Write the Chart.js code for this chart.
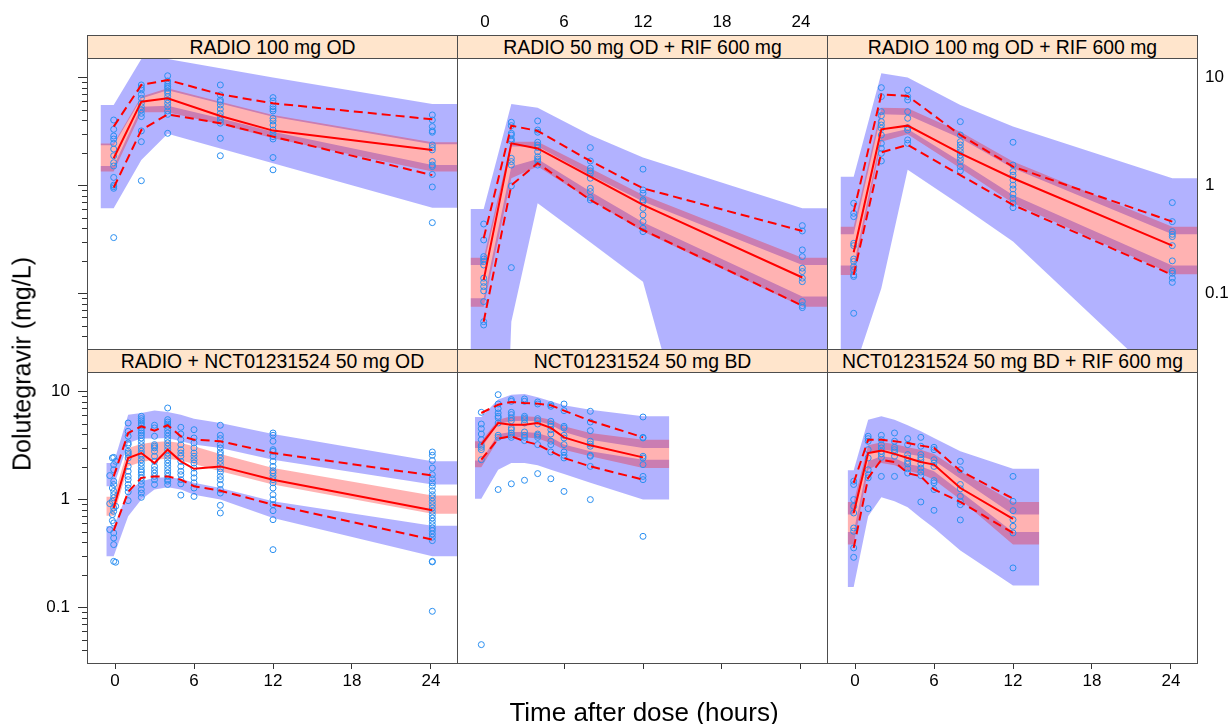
<!DOCTYPE html>
<html><head><meta charset="utf-8">
<script src="https://cdn.jsdelivr.net/npm/chart.js@4.4.1/dist/chart.umd.min.js"></script>
<style>
html,body{margin:0;padding:0;background:#fff;}
body{width:1231px;height:724px;overflow:hidden;position:relative;font-family:"Liberation Sans",Arial,sans-serif;}
canvas{position:absolute;}
.strip{position:absolute;box-sizing:border-box;height:24px;width:371px;background:#ffe5cc;border:1px solid #4d4d4d;font-size:19.4px;line-height:22px;text-align:center;color:#000;white-space:nowrap;}
.atitle{position:absolute;transform:translate(-50%,-50%);white-space:nowrap;color:#000;}
</style></head><body>
<script>
// ---------- tick labels / titles ----------
const xTickValues = [0, 6, 12, 18, 24];
const xTickValuesMid = [6, 12, 18, 24];
const xTickLabels = ['0', '6', '12', '18', '24'];
const yTickValues = [0.04,0.05,0.06,0.07,0.08,0.09,0.1,0.2,0.3,0.4,0.5,0.6,0.7,0.8,0.9,1,2,3,4,5,6,7,8,9,10];
const yLabelValues = [0.1, 1, 10];
const yTickLabels = ['0.1', '1', '10'];
const panelTitles = ['RADIO 100 mg OD', 'RADIO 50 mg OD + RIF 600 mg', 'RADIO 100 mg OD + RIF 600 mg',
  'RADIO + NCT01231524 50 mg OD', 'NCT01231524 50 mg BD', 'NCT01231524 50 mg BD + RIF 600 mg'];
const xAxisTitle = 'Time after dose (hours)';
const yAxisTitle = 'Dolutegravir (mg/L)';

// ---------- Panel 1: RADIO 100 mg OD ----------
const p1BinTime = [-0.1, 2, 4, 8, 12, 24.1];
const p1Median = [1.79, 5.99, 6.43, 4.41, 3.23, 2.14];
const p1P95 = [3.52, 8.55, 9.51, 7.00, 5.78, 4.11];
const p1P05 = [0.958, 3.27, 4.57, 3.78, 2.84, 1.25];
const p1BandTime = [-1.1, -0.1, 2, 4, 8, 12, 24.1, 26.5];
const p1Hi95 = [5.58, 5.58, 14.9, 14.9, 12.2, 10.0, 5.70, 5.70];
const p1Lo95 = [2.36, 2.36, 6.40, 7.64, 5.75, 4.33, 2.42, 2.42];
const p1Hi50 = [2.46, 2.46, 6.67, 7.96, 5.99, 4.51, 2.52, 2.52];
const p1Lo50 = [1.35, 1.35, 4.77, 4.77, 3.70, 2.74, 1.35, 1.35];
const p1Hi05 = [1.52, 1.52, 5.38, 5.50, 4.20, 3.16, 1.55, 1.55];
const p1Lo05 = [0.617, 0.617, 1.73, 3.02, 2.20, 1.61, 0.625, 0.625];
const p1ObsTime = [-0.1, 2, 4, 8, 12, 24.1];
const p1ObsConc = [
  [4.05, 3.32, 2.88, 2.70, 2.46, 2.18, 1.89, 1.63, 1.52, 1.19, 1.01, 0.978, 0.944, 0.330],
  [8.55, 8.07, 7.68, 7.00, 6.43, 5.78, 5.38, 5.02, 4.67, 4.35, 3.21, 2.55, 1.11],
  [10.4, 9.31, 8.67, 8.25, 7.96, 7.52, 7.15, 6.67, 6.21, 5.78, 5.38, 4.91, 4.57, 3.05],
  [8.55, 6.91, 6.21, 5.99, 5.58, 5.12, 4.67, 4.35, 4.05, 3.78, 2.74, 1.89],
  [6.53, 6.08, 5.38, 5.12, 4.91, 4.20, 3.97, 3.64, 3.27, 3.05, 2.84, 2.70, 1.82, 1.40],
  [4.51, 4.05, 3.52, 3.21, 3.12, 2.38, 2.25, 2.14, 1.67, 1.55, 1.50, 1.27, 0.971, 0.454]
];

// ---------- Panel 2: RADIO 50 mg OD + RIF 600 mg ----------
const p2BinTime = [-0.1, 2, 4, 8, 12, 24.1];
const p2Median = [0.134, 2.46, 2.21, 1.21, 0.662, 0.141];
const p2P95 = [0.325, 3.59, 3.21, 1.69, 0.944, 0.380];
const p2P05 = [0.055, 1.01, 1.61, 0.736, 0.388, 0.0774];
const p2BandTime = [-1.1, -0.1, 2, 4, 8, 12, 24.1, 26.5];
const p2Hi95 = [0.608, 0.608, 5.70, 5.27, 2.94, 1.82, 0.617, 0.617];
const p2Lo95 = [0.184, 0.184, 2.30, 2.30, 1.25, 0.711, 0.184, 0.184];
const p2Hi50 = [0.215, 0.215, 2.55, 2.55, 1.45, 0.819, 0.215, 0.215];
const p2Lo50 = [0.0757, 0.0757, 1.17, 1.50, 0.736, 0.375, 0.0757, 0.0757];
const p2Hi05 = [0.0905, 0.0905, 1.50, 1.76, 0.88, 0.457, 0.0938, 0.0938];
const p2Lo05 = [1e-8, 1e-8, 0.055, 0.686, 0.299, 0.129, 6e-7, 6e-7];
const p2ObsTime = [-0.1, 2, 4, 8, 12, 24.1];
const p2ObsConc = [
  [0.441, 0.314, 0.220, 0.209, 0.198, 0.184, 0.139, 0.127, 0.116, 0.106, 0.0843, 0.055, 0.0512],
  [3.86, 3.59, 3.05, 2.94, 2.70, 2.59, 1.79, 1.67, 1.55, 0.992, 0.174],
  [3.97, 3.27, 3.12, 2.52, 2.38, 2.25, 2.06, 1.85, 1.76, 1.69, 1.55],
  [2.25, 1.69, 1.45, 1.37, 1.30, 1.17, 0.944, 0.88, 0.774, 0.736],
  [1.42, 0.911, 0.849, 0.736, 0.711, 0.617, 0.535, 0.464, 0.403, 0.375],
  [0.426, 0.380, 0.254, 0.220, 0.172, 0.160, 0.139, 0.129, 0.0843, 0.0774, 0.0742]
];

// ---------- Panel 3: RADIO 100 mg OD + RIF 600 mg ----------
const p3BinTime = [-0.1, 2, 4, 8, 12, 24.1];
const p3Median = [0.241, 3.32, 3.59, 1.99, 1.17, 0.278];
const p3P95 = [0.574, 7.00, 6.76, 2.94, 1.50, 0.464];
const p3P05 = [0.149, 2.03, 2.38, 1.25, 0.662, 0.149];
const p3BandTime = [-1.1, -0.1, 2, 4, 8, 12, 24.1, 26.5];
const p3Hi95 = [1.21, 1.21, 10.96, 10.0, 5.58, 3.52, 1.17, 1.17];
const p3Lo95 = [0.354, 0.354, 4.57, 4.51, 2.74, 1.45, 0.354, 0.354];
const p3Hi50 = [0.417, 0.417, 5.27, 5.20, 3.16, 1.67, 0.417, 0.417];
const p3Lo50 = [0.149, 0.149, 2.55, 2.99, 1.45, 0.686, 0.151, 0.151];
const p3Hi05 = [0.182, 0.182, 2.94, 3.35, 1.67, 0.819, 0.182, 0.182];
const p3Lo05 = [0.019, 0.019, 0.112, 1.40, 0.662, 0.303, 0.0125, 0.0125];
const p3ObsTime = [-0.1, 2, 4, 8, 12, 24.1];
const p3ObsConc = [
  [0.686, 0.554, 0.516, 0.292, 0.278, 0.209, 0.198, 0.178, 0.166, 0.149, 0.144, 0.0657],
  [8.07, 6.67, 4.84, 4.44, 3.91, 3.64, 3.39, 2.94, 2.46, 2.21, 1.99, 1.69],
  [7.68, 6.67, 6.21, 4.84, 4.20, 3.44, 3.27, 2.65, 2.46],
  [3.91, 2.94, 2.55, 2.38, 2.21, 2.06, 1.92, 1.79, 1.67, 1.50, 1.37],
  [2.52, 1.55, 1.35, 1.25, 1.13, 1.01, 0.931, 0.831, 0.763, 0.686, 0.625],
  [0.696, 0.464, 0.375, 0.354, 0.337, 0.278, 0.201, 0.162, 0.154, 0.139, 0.127]
];

// ---------- Panel 4: RADIO + NCT01231524 50 mg OD ----------
const p4BinTime = [-0.1, 1, 2, 3, 4, 5, 6, 8, 12, 24.1];
const p4Median = [0.837, 2.43, 2.70, 2.18, 2.90, 2.26, 1.93, 2.03, 1.53, 0.796];
const p4P95 = [1.64, 4.14, 4.77, 4.35, 4.88, 3.86, 3.59, 3.47, 2.70, 1.67];
const p4P05 = [0.516, 1.18, 1.59, 1.64, 1.64, 1.53, 1.33, 1.21, 0.898, 0.426];
const p4BandTime = [-0.66, -0.1, 1, 2, 3, 4, 5, 6, 8, 12, 24.1, 26.5];
const p4Hi95 = [2.18, 2.18, 6.12, 6.34, 6.67, 6.48, 6.12, 5.62, 5.12, 4.05, 2.26, 2.26];
const p4Lo95 = [1.33, 1.33, 3.35, 3.67, 3.67, 3.72, 3.47, 3.23, 3.01, 2.34, 1.38, 1.38];
const p4Hi50 = [1.06, 1.06, 3.01, 3.27, 3.42, 3.47, 3.35, 3.12, 2.65, 1.96, 1.09, 1.09];
const p4Lo50 = [0.710, 0.710, 2.03, 2.23, 2.34, 2.39, 2.30, 2.14, 1.83, 1.38, 0.741, 0.741];
const p4Hi05 = [0.566, 0.566, 1.19, 1.48, 1.59, 1.61, 1.56, 1.43, 1.28, 0.964, 0.574, 0.574];
const p4Lo05 = [0.299, 0.299, 0.700, 1.00, 1.24, 1.30, 1.24, 1.11, 1.00, 0.676, 0.299, 0.299];
const p4ObsTime = [-0.4, -0.2, -0.1, 0.05, 1, 2, 3, 4, 5, 6, 8, 12, 24.1];
const p4ObsConc = [
  [1.67, 0.918, 0.527],
  [2.43, 1.28, 0.964, 0.726, 0.639],
  [2.46, 2.11, 1.89, 1.48, 1.38, 1.19, 1.11, 1.04, 0.837, 0.779, 0.608, 0.491, 0.441, 0.383, 0.268],
  [2.26, 0.867, 0.263],
  [5.12, 4.29, 3.86, 3.35, 3.23, 2.80, 2.70, 2.61, 2.43, 2.03, 1.83, 1.64, 1.53, 1.38, 1.28, 1.18, 0.978],
  [5.91, 5.62, 5.38, 5.12, 4.88, 4.61, 4.35, 4.14, 3.94, 3.72, 3.47, 3.23, 3.01, 2.80, 2.65, 2.52, 2.34, 2.18, 2.03, 1.89, 1.80, 1.70, 1.59, 1.48, 1.38, 1.24, 1.15, 1.05],
  [4.88, 4.61, 3.86, 3.23, 3.12, 3.01, 2.80, 2.52, 2.26, 2.03, 1.89, 1.76, 1.64, 1.53, 1.38],
  [7.05, 5.50, 5.23, 5.01, 4.77, 4.44, 4.14, 3.86, 3.59, 3.35, 3.12, 2.90, 2.70, 2.52, 2.34, 2.18, 2.03, 1.89, 1.76, 1.64, 1.53, 1.48, 1.38],
  [4.67, 4.05, 3.59, 3.23, 2.90, 2.70, 2.52, 2.26, 2.03, 1.83, 1.70, 1.53, 1.40, 1.10],
  [4.44, 3.72, 3.35, 3.01, 2.70, 2.52, 2.34, 2.18, 1.96, 1.76, 1.59, 1.43, 1.28, 1.07],
  [4.88, 3.94, 3.67, 3.23, 3.01, 2.76, 2.61, 2.43, 2.26, 2.11, 1.93, 1.80, 1.64, 1.53, 1.38, 1.24, 1.15, 0.885, 0.752],
  [4.14, 3.94, 3.47, 2.90, 2.80, 2.52, 2.26, 2.03, 1.85, 1.76, 1.64, 1.53, 1.43, 1.28, 1.11, 1.00, 0.898, 0.790, 0.652, 0.344],
  [2.76, 2.57, 2.30, 1.96, 1.70, 1.56, 1.43, 1.33, 1.21, 1.11, 1.04, 0.964, 0.898, 0.837, 0.779, 0.726, 0.676, 0.630, 0.586, 0.546, 0.516, 0.481, 0.448, 0.417, 0.268, 0.265, 0.0924]
];

// ---------- Panel 5: NCT01231524 50 mg BD ----------
const p5BinTime = [-0.28, 1, 2, 3, 4, 5, 6, 8, 12];
const p5Median = [3.23, 5.12, 4.94, 4.94, 5.12, 4.61, 3.77, 3.18, 2.46];
const p5P95 = [6.34, 7.57, 8.02, 7.85, 7.74, 7.47, 6.67, 5.38, 3.77];
const p5P05 = [2.34, 3.67, 3.86, 3.47, 3.23, 2.80, 2.43, 2.03, 1.53];
const p5BandTime = [-0.76, -0.28, 1, 2, 3, 4, 5, 6, 8, 12, 14];
const p5Hi95 = [5.82, 5.82, 8.43, 9.37, 9.51, 8.86, 8.13, 7.47, 6.81, 5.91, 5.91];
const p5Lo95 = [3.01, 3.01, 5.01, 5.31, 5.38, 5.31, 4.94, 4.23, 3.59, 3.01, 3.01];
const p5Hi50 = [3.47, 3.47, 5.50, 5.91, 5.91, 5.82, 5.50, 4.77, 4.14, 3.59, 3.59];
const p5Lo50 = [1.99, 1.99, 3.59, 3.77, 3.77, 3.67, 3.35, 2.90, 2.52, 1.96, 1.96];
const p5Hi05 = [2.30, 2.30, 4.05, 4.23, 4.23, 4.14, 3.77, 3.23, 2.80, 2.34, 2.34];
const p5Lo05 = [1.02, 1.02, 1.89, 2.18, 2.18, 2.08, 1.89, 1.73, 1.43, 1.00, 1.00];
const p5ObsTime = [-0.28, 1, 2, 3, 4, 5, 6, 8, 12];
const p5ObsConc = [
  [6.43, 5.01, 4.54, 4.05, 3.59, 3.18, 3.05, 2.90, 2.34, 0.0454],
  [9.37, 7.68, 6.96, 6.34, 5.91, 5.70, 5.12, 3.94, 3.77, 1.24],
  [8.43, 8.13, 6.43, 6.12, 5.70, 5.38, 4.61, 4.44, 4.14, 3.94, 3.77, 1.40],
  [8.55, 8.13, 5.91, 5.70, 5.50, 5.12, 4.23, 3.94, 3.77, 3.52, 1.51],
  [8.02, 7.68, 5.62, 5.38, 5.01, 4.05, 3.94, 3.77, 3.23, 1.74],
  [7.57, 7.31, 5.31, 5.01, 4.77, 4.44, 4.05, 3.47, 3.23, 2.76, 1.56],
  [7.68, 6.67, 4.77, 4.61, 3.94, 3.72, 3.23, 2.76, 2.57, 2.43, 1.19],
  [6.57, 5.23, 4.35, 3.47, 3.27, 3.12, 2.57, 2.52, 2.03, 1.00],
  [5.82, 3.77, 3.72, 2.52, 2.43, 2.11, 1.64, 1.53, 0.457]
];

// ---------- Panel 6: NCT01231524 50 mg BD + RIF 600 mg ----------
const p6BinTime = [-0.1, 1, 2, 3, 4, 5, 6, 8, 12];
const p6Median = [0.752, 2.70, 2.84, 2.65, 2.43, 2.23, 2.11, 1.28, 0.662];
const p6P95 = [1.43, 3.59, 3.59, 3.47, 3.35, 3.16, 3.01, 1.85, 1.02];
const p6P05 = [0.357, 1.59, 2.34, 2.23, 1.76, 1.64, 1.24, 0.951, 0.491];
const p6BandTime = [-0.56, -0.1, 1, 2, 3, 4, 5, 6, 8, 12, 14];
const p6Hi95 = [1.87, 1.87, 5.50, 5.91, 5.50, 4.88, 4.29, 3.72, 2.80, 1.93, 1.93];
const p6Lo95 = [0.726, 0.726, 2.70, 2.90, 2.80, 2.65, 2.52, 2.30, 1.56, 0.726, 0.726];
const p6Hi50 = [0.951, 0.951, 3.18, 3.39, 3.27, 3.05, 2.90, 2.65, 1.83, 0.951, 0.951];
const p6Lo50 = [0.383, 0.383, 1.89, 2.18, 2.08, 1.85, 1.73, 1.53, 1.00, 0.383, 0.383];
const p6Hi05 = [0.502, 0.502, 2.26, 2.52, 2.43, 2.14, 2.03, 1.83, 1.19, 0.502, 0.502];
const p6Lo05 = [0.155, 0.155, 0.700, 1.05, 0.964, 0.849, 0.676, 0.546, 0.337, 0.160, 0.160];
const p6ObsTime = [-0.1, 1, 2, 3, 4, 5, 6, 8, 12];
const p6ObsConc = [
  [1.48, 1.38, 1.00, 0.867, 0.752, 0.546, 0.509, 0.357, 0.292],
  [3.86, 3.67, 3.47, 2.90, 2.43, 1.89, 1.70, 1.59, 0.825],
  [3.94, 3.59, 3.23, 3.01, 2.80, 2.65, 2.46, 1.64],
  [4.14, 3.47, 3.05, 2.90, 2.76, 2.52, 1.64],
  [3.67, 3.23, 2.61, 2.43, 2.26, 2.14, 1.93, 1.76],
  [3.77, 3.12, 2.61, 2.46, 2.34, 2.14, 1.96, 1.80, 1.67, 0.951],
  [3.05, 2.90, 2.34, 2.18, 2.03, 1.50, 1.43, 1.24, 0.796],
  [2.26, 1.89, 1.38, 1.26, 1.07, 0.964, 0.898, 0.648],
  [1.64, 0.964, 0.790, 0.652, 0.566, 0.491, 0.233]
];

// ---------- layout & style ----------
const FONT = '"Liberation Sans", Arial, sans-serif';
Chart.defaults.font.family = FONT;
const X_MIN = -2.127, X_MAX = 25.975, Y_MIN = 0.03069, Y_MAX = 15.19;
const PW = 370, PH = 291, ML = 70, MR = 40, MT = 56, MB = 45;
const colX = [87, 457, 827], rowY = [58, 372];
const BORDER = '#4d4d4d';
const BLUE = 'rgba(0,0,255,0.3)', PINK = 'rgba(255,0,0,0.3)', RED = '#ff0000', OBS = '#2b8ff0', NONE = 'rgba(0,0,0,0)';
const TICK_FONT = {family: FONT, size: 17};

const panels = [
  {row:0,col:0,bin:p1BinTime,med:p1Median,p95:p1P95,p05:p1P05,band:p1BandTime,hi95:p1Hi95,lo95:p1Lo95,hi50:p1Hi50,lo50:p1Lo50,hi05:p1Hi05,lo05:p1Lo05,obsT:p1ObsTime,obsC:p1ObsConc},
  {row:0,col:1,bin:p2BinTime,med:p2Median,p95:p2P95,p05:p2P05,band:p2BandTime,hi95:p2Hi95,lo95:p2Lo95,hi50:p2Hi50,lo50:p2Lo50,hi05:p2Hi05,lo05:p2Lo05,obsT:p2ObsTime,obsC:p2ObsConc},
  {row:0,col:2,bin:p3BinTime,med:p3Median,p95:p3P95,p05:p3P05,band:p3BandTime,hi95:p3Hi95,lo95:p3Lo95,hi50:p3Hi50,lo50:p3Lo50,hi05:p3Hi05,lo05:p3Lo05,obsT:p3ObsTime,obsC:p3ObsConc},
  {row:1,col:0,bin:p4BinTime,med:p4Median,p95:p4P95,p05:p4P05,band:p4BandTime,hi95:p4Hi95,lo95:p4Lo95,hi50:p4Hi50,lo50:p4Lo50,hi05:p4Hi05,lo05:p4Lo05,obsT:p4ObsTime,obsC:p4ObsConc},
  {row:1,col:1,bin:p5BinTime,med:p5Median,p95:p5P95,p05:p5P05,band:p5BandTime,hi95:p5Hi95,lo95:p5Lo95,hi50:p5Hi50,lo50:p5Lo50,hi05:p5Hi05,lo05:p5Lo05,obsT:p5ObsTime,obsC:p5ObsConc},
  {row:1,col:2,bin:p6BinTime,med:p6Median,p95:p6P95,p05:p6P05,band:p6BandTime,hi95:p6Hi95,lo95:p6Lo95,hi50:p6Hi50,lo50:p6Lo50,hi05:p6Hi05,lo05:p6Lo05,obsT:p6ObsTime,obsC:p6ObsConc}
];

const xy = (xs, ys) => xs.map((x, i) => ({x: x, y: ys[i]}));
const obsPts = (ts, cs) => ts.flatMap((t, i) => cs[i].map(c => ({x: t, y: c})));
const xLabel = v => { const i = xTickValues.indexOf(v); return i >= 0 ? xTickLabels[i] : ''; };
const yLabel = v => { const i = yLabelValues.indexOf(v); return i >= 0 ? yTickLabels[i] : ''; };

function lineDs(data, dash, order) {
  return {data, borderColor: RED, borderWidth: 2, borderDash: dash, pointRadius: 0, fill: false, tension: 0, order};
}
function bandDs(data, fill, color, order) {
  return {data, fill, backgroundColor: color, borderColor: NONE, borderWidth: 0, pointRadius: 0, tension: 0, order};
}

function scalesFor(row, col) {
  return {
    x: {
      type: 'linear', position: 'bottom', min: X_MIN, max: X_MAX,
      afterBuildTicks: s => { s.ticks = (row === 1 && col === 1 ? xTickValuesMid : xTickValues).map(v => ({value: v})); },
      afterFit: s => { s.height = MB; },
      ticks: {display: row === 1 && col !== 1, autoSkip: false, maxRotation: 0, padding: 2.5, color: '#000', font: TICK_FONT, callback: v => xLabel(v)},
      grid: {display: true, drawOnChartArea: false, drawTicks: row === 1, tickLength: 6, tickColor: '#333', tickWidth: 1},
      border: {display: true, color: BORDER, width: 1}
    },
    xTop: {
      type: 'linear', position: 'top', min: X_MIN, max: X_MAX,
      afterBuildTicks: s => { s.ticks = xTickValues.map(v => ({value: v})); },
      afterFit: s => { s.height = MT; },
      ticks: {display: row === 0 && col === 1, autoSkip: false, maxRotation: 0, padding: 25.5, color: '#000', font: TICK_FONT, callback: v => xLabel(v)},
      grid: {display: true, drawOnChartArea: false, drawTicks: false},
      border: {display: true, color: BORDER, width: 1}
    },
    y: {
      type: 'logarithmic', position: 'left', min: Y_MIN, max: Y_MAX,
      afterBuildTicks: s => { s.ticks = yTickValues.map(v => ({value: v, major: yLabelValues.includes(v)})); },
      afterFit: s => { s.width = ML; },
      ticks: {display: row === 1 && col === 0, autoSkip: false, padding: 8, color: '#000', font: TICK_FONT, callback: v => yLabel(v)},
      grid: {display: true, drawOnChartArea: false, drawTicks: col === 0, tickLength: 9, tickColor: '#333', tickWidth: 1,
        tickBorderDash: ctx => (ctx.tick && yLabelValues.includes(ctx.tick.value)) ? [] : [0, 4, 5, 20]},
      border: {display: true, color: BORDER, width: 1}
    },
    yRight: {
      type: 'logarithmic', position: 'right', min: Y_MIN, max: Y_MAX,
      afterBuildTicks: s => { s.ticks = yLabelValues.map(v => ({value: v})); },
      afterFit: s => { s.width = MR; },
      ticks: {display: row === 0 && col === 2, autoSkip: false, padding: 8, color: '#000', font: TICK_FONT, callback: v => yLabel(v)},
      grid: {display: true, drawOnChartArea: false, drawTicks: false},
      border: {display: true, color: BORDER, width: 1}
    }
  };
}

panels.forEach((p, idx) => {
  const cv = document.createElement('canvas');
  cv.width = ML + PW + MR; cv.height = MT + PH + MB;
  cv.style.left = (colX[p.col] - ML) + 'px';
  cv.style.top = (rowY[p.row] - MT) + 'px';
  cv.style.width = cv.width + 'px'; cv.style.height = cv.height + 'px';
  document.body.appendChild(cv);
  new Chart(cv, {
    type: 'line',
    data: {datasets: [
      lineDs(xy(p.bin, p.med), [], 0),
      lineDs(xy(p.bin, p.p95), [9, 5], 1),
      lineDs(xy(p.bin, p.p05), [9, 5], 2),
      {data: obsPts(p.obsT, p.obsC), showLine: false, pointRadius: 3, pointStyle: 'circle', pointBorderColor: OBS,
       pointBackgroundColor: NONE, pointBorderWidth: 1, borderColor: OBS, fill: false, order: 3},
      bandDs(xy(p.band, p.hi50), '+1', PINK, 4),
      bandDs(xy(p.band, p.lo50), false, NONE, 5),
      bandDs(xy(p.band, p.hi95), '+1', BLUE, 6),
      bandDs(xy(p.band, p.lo95), false, NONE, 7),
      bandDs(xy(p.band, p.hi05), '+1', BLUE, 8),
      bandDs(xy(p.band, p.lo05), false, NONE, 9)
    ]},
    options: {
      responsive: false, animation: false, devicePixelRatio: 1, events: [],
      layout: {padding: 0},
      plugins: {legend: {display: false}, tooltip: {enabled: false}, title: {display: false}},
      scales: scalesFor(p.row, p.col)
    }
  });
});

// strips (panel headers)
panels.forEach((p, idx) => {
  const d = document.createElement('div');
  d.className = 'strip';
  d.style.left = colX[p.col] + 'px';
  d.style.top = (rowY[p.row] - 23) + 'px';
  d.textContent = panelTitles[idx];
  document.body.appendChild(d);
});

// axis titles
const xt = document.createElement('div');
xt.className = 'atitle'; xt.style.left = '644px'; xt.style.top = '712px'; xt.style.fontSize = '26px';
xt.textContent = xAxisTitle; document.body.appendChild(xt);
const yt = document.createElement('div');
yt.className = 'atitle'; yt.style.left = '22px'; yt.style.top = '364px'; yt.style.fontSize = '25px';
yt.style.transform = 'translate(-50%,-50%) rotate(-90deg)';
yt.textContent = yAxisTitle; document.body.appendChild(yt);
</script>
</body></html>
